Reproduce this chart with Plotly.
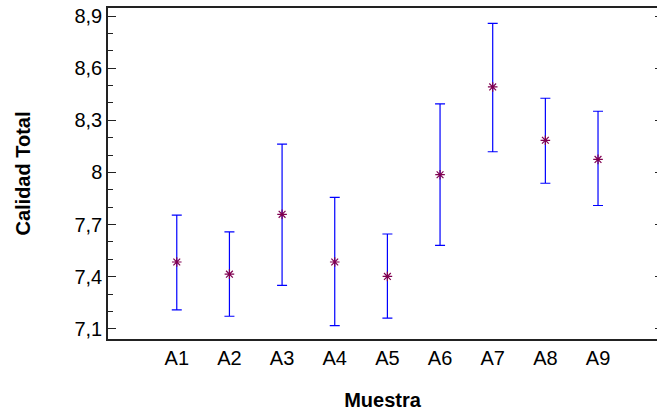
import plotly.graph_objects as go

muestras = ["A1", "A2", "A3", "A4", "A5", "A6", "A7", "A8", "A9"]
media = [7.485, 7.415, 7.759, 7.485, 7.402, 7.987, 8.492, 8.185, 8.075]
superior = [7.754, 7.658, 8.163, 7.857, 7.646, 8.394, 8.858, 8.427, 8.352]
inferior = [7.209, 7.173, 7.350, 7.119, 7.162, 7.580, 8.119, 7.938, 7.810]

ytick_vals = [7.1, 7.4, 7.7, 8.0, 8.3, 8.6, 8.9]
ytick_text = ["7,1", "7,4", "7,7", "8", "8,3", "8,6", "8,9"]

err_plus = [s - m for s, m in zip(superior, media)]
err_minus = [m - i for m, i in zip(media, inferior)]

fig = go.Figure()
fig.add_trace(go.Scatter(
    x=muestras, y=media, mode="markers",
    marker=dict(symbol="asterisk-open", size=8, color="#800050",
                line=dict(color="#800050", width=1.2)),
    error_y=dict(type="data", symmetric=False, array=err_plus, arrayminus=err_minus,
                 color="#0000FF", thickness=1.2, width=5),
    showlegend=False,
))
# invisible trace for right-side ticks
fig.add_trace(go.Scatter(x=[muestras[0]], y=[media[0]], yaxis="y2", mode="markers",
                         marker=dict(opacity=0), showlegend=False, hoverinfo="skip"))

fam = "Liberation Sans, Arial, sans-serif"
font = dict(family=fam, size=20, color="#000000")
yrange = [7.042, 8.946]
fig.update_layout(
    width=657, height=413,
    margin=dict(l=108, r=0, t=8, b=74),
    paper_bgcolor="white", plot_bgcolor="white",
    font=font,
    xaxis=dict(
        type="category", categoryorder="array", categoryarray=muestras,
        range=[-1.306, 9.12],
        showline=True, linecolor="#222222", linewidth=1.5, mirror=True,
        ticks="", showgrid=False, zeroline=False,
        tickfont=font,
        title=dict(text="<b>Muestra</b>", font=dict(family=fam, size=20, color="#000000"), standoff=25),
    ),
    yaxis=dict(
        range=yrange,
        tickvals=ytick_vals, ticktext=ytick_text,
        ticks="inside", ticklen=8, tickcolor="#222222", tickwidth=1,
        minor=dict(dtick=0.1, tick0=7.1, ticks="inside", ticklen=5, tickcolor="#222222", tickwidth=1),
        showline=True, linecolor="#222222", linewidth=1.5, mirror=False,
        showgrid=False, zeroline=False,
        tickfont=font,
        title=dict(text="<b>Calidad Total</b>", font=dict(family=fam, size=20, color="#000000"), standoff=38),
    ),
    yaxis2=dict(
        overlaying="y", side="right", range=yrange,
        tickvals=ytick_vals, ticks="inside", ticklen=2, tickcolor="#222222",
        showticklabels=False, showline=False, showgrid=False, zeroline=False,
    ),
)

fig.write_html("out.html")
